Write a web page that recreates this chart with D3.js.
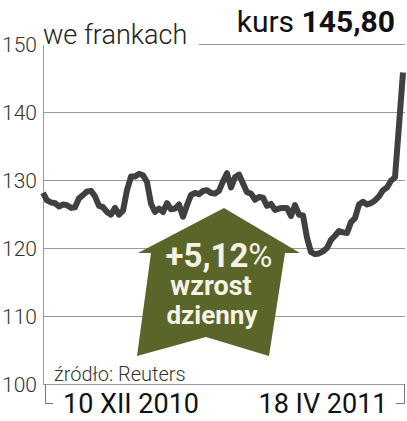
<!DOCTYPE html>
<html>
<head>
<meta charset="utf-8">
<script src="https://cdn.jsdelivr.net/npm/d3@7"></script>
<style>
  body { margin: 0; background: #fff; }
  #svg-container { width: 407px; height: 421px; }
  text { font-family: Roboto, "Open Sans", sans-serif; }
</style>
</head>
<body>
<div id="svg-container"></div>
<script>
// data: kurs CHF/PLN (sampled evenly along the line)
const values = [
  128.1, 127.0, 126.7, 126.6, 126.1, 126.4, 126.3, 125.9, 126.0, 127.3,
  127.8, 128.3, 128.4, 127.6, 126.2, 126.0, 125.3, 124.9, 125.9, 124.9,
  125.5, 128.5, 130.5, 130.5, 130.9, 130.7, 129.7, 126.5, 125.3, 125.8,
  125.3, 126.6, 125.7, 125.8, 126.4, 124.6, 126.3, 127.8, 128.1, 127.9,
  128.4, 128.5, 128.1, 128.0, 128.4, 129.8, 131.0, 128.9, 130.4, 130.8,
  129.5, 128.2, 128.0, 127.1, 127.5, 127.4, 126.2, 126.5, 125.6, 125.8,
  125.9, 125.9, 124.7, 126.3, 124.9, 124.8, 121.5, 119.4, 119.1, 119.2,
  119.5, 120.0, 121.2, 121.8, 122.5, 122.3, 122.2, 123.8, 124.4, 126.4,
  126.8, 126.4, 126.6, 127.0, 127.6, 128.5, 128.9, 129.9, 130.4, 138.0,
  145.8
];
const yTicks = [100, 110, 120, 130, 140, 150];
const dateLabels = ["10 XII 2010", "18 IV 2011"];
const unitLabel = "we frankach";
const lastLabel = "145,80";
const changeLabel = "+5,12";
const sourceLabel = "źródło: Reuters";

// svg
const width = 407;
const height = 421;
const margin = { top: 44, right: 2, bottom: 37, left: 43 };

const svg = d3.select("#svg-container").append("svg")
  .attr("width", width)
  .attr("height", height);

// scale
const xScale = d3.scaleLinear()
  .domain([0, values.length - 1])
  .range([margin.left, width - 4]);
const yScale = d3.scaleLinear()
  .domain([100, 150])
  .range([height - margin.bottom, margin.top]);

// grid
svg.append("g")
  .selectAll("line")
  .data(yTicks)
  .join("line")
  .attr("x1", (d) => (d === 150 ? 199 : margin.left))
  .attr("x2", width - margin.right)
  .attr("y1", (d) => yScale(d) + 0.5)
  .attr("y2", (d) => yScale(d) + 0.5)
  .attr("stroke", "#9a9a9a")
  .attr("stroke-width", 1);

// y axis line
svg.append("line")
  .attr("x1", margin.left + 0.5)
  .attr("x2", margin.left + 0.5)
  .attr("y1", yScale(150) + 1)
  .attr("y2", yScale(100))
  .attr("stroke", "#9a9a9a");

// y labels
svg.append("g")
  .selectAll("text")
  .data(yTicks)
  .join("text")
  .attr("x", 37)
  .attr("y", (d) => yScale(d) + 8)
  .attr("text-anchor", "end")
  .attr("font-size", 21)
  .attr("font-weight", 300)
  .attr("fill", "#333")
  .text((d) => d);

// date bracket
const yb = yScale(100);
svg.append("path")
  .attr("d", `M45.5,${yb}V${yb + 19.5}H53 M${width - 2.5},${yb}V${yb + 19.5}H396`)
  .attr("fill", "none")
  .attr("stroke", "#777");

svg.append("g")
  .selectAll("text")
  .data(dateLabels)
  .join("text")
  .attr("x", (d, i) => [131, 323][i])
  .attr("y", 413)
  .attr("text-anchor", "middle")
  .attr("font-size", 27)
  .attr("fill", "#111")
  .text((d) => d);

// titles
svg.append("text")
  .attr("x", 43)
  .attr("y", 44)
  .attr("font-size", 27)
  .attr("font-weight", 300)
  .attr("fill", "#222")
  .text(unitLabel);

const kurs = svg.append("text")
  .attr("x", 395)
  .attr("y", 32)
  .attr("text-anchor", "end")
  .attr("font-size", 30)
  .attr("fill", "#111");
kurs.append("tspan").text("kurs ");
kurs.append("tspan").attr("font-weight", 700).text(lastLabel);

svg.append("text")
  .attr("x", 54)
  .attr("y", 381)
  .attr("font-size", 20)
  .attr("font-weight", 300)
  .attr("fill", "#333")
  .text(sourceLabel);

// arrow (annotation)
const arrow = svg.append("g").attr("transform", "translate(224,253)");
arrow.append("path")
  .attr("d", "M0,-45L76,0L61,0L45,103L-18,84L-87,103L-73,0L-86,0Z")
  .attr("fill", "#5a652a");

const pct = arrow.append("text")
  .attr("x", -5)
  .attr("y", 14)
  .attr("text-anchor", "middle")
  .attr("font-size", 33)
  .attr("fill", "#f6f3e6");
pct.append("tspan").attr("font-weight", 700).text(changeLabel);
pct.append("tspan").attr("font-weight", 400).text("%");

arrow.append("text")
  .attr("x", -13)
  .attr("y", 42)
  .attr("text-anchor", "middle")
  .attr("font-size", 27)
  .attr("font-weight", 700)
  .attr("fill", "#f6f3e6")
  .text("wzrost");

arrow.append("text")
  .attr("x", -12)
  .attr("y", 71)
  .attr("text-anchor", "middle")
  .attr("font-size", 26)
  .attr("font-weight", 700)
  .attr("fill", "#f6f3e6")
  .text("dzienny");

// line
const line = d3.line()
  .x((d, i) => xScale(i))
  .y((d) => yScale(d));

svg.append("path")
  .datum(values)
  .attr("d", line)
  .attr("fill", "none")
  .attr("stroke", "#404040")
  .attr("stroke-width", 6)
  .attr("stroke-linejoin", "round");
</script>
</body>
</html>
